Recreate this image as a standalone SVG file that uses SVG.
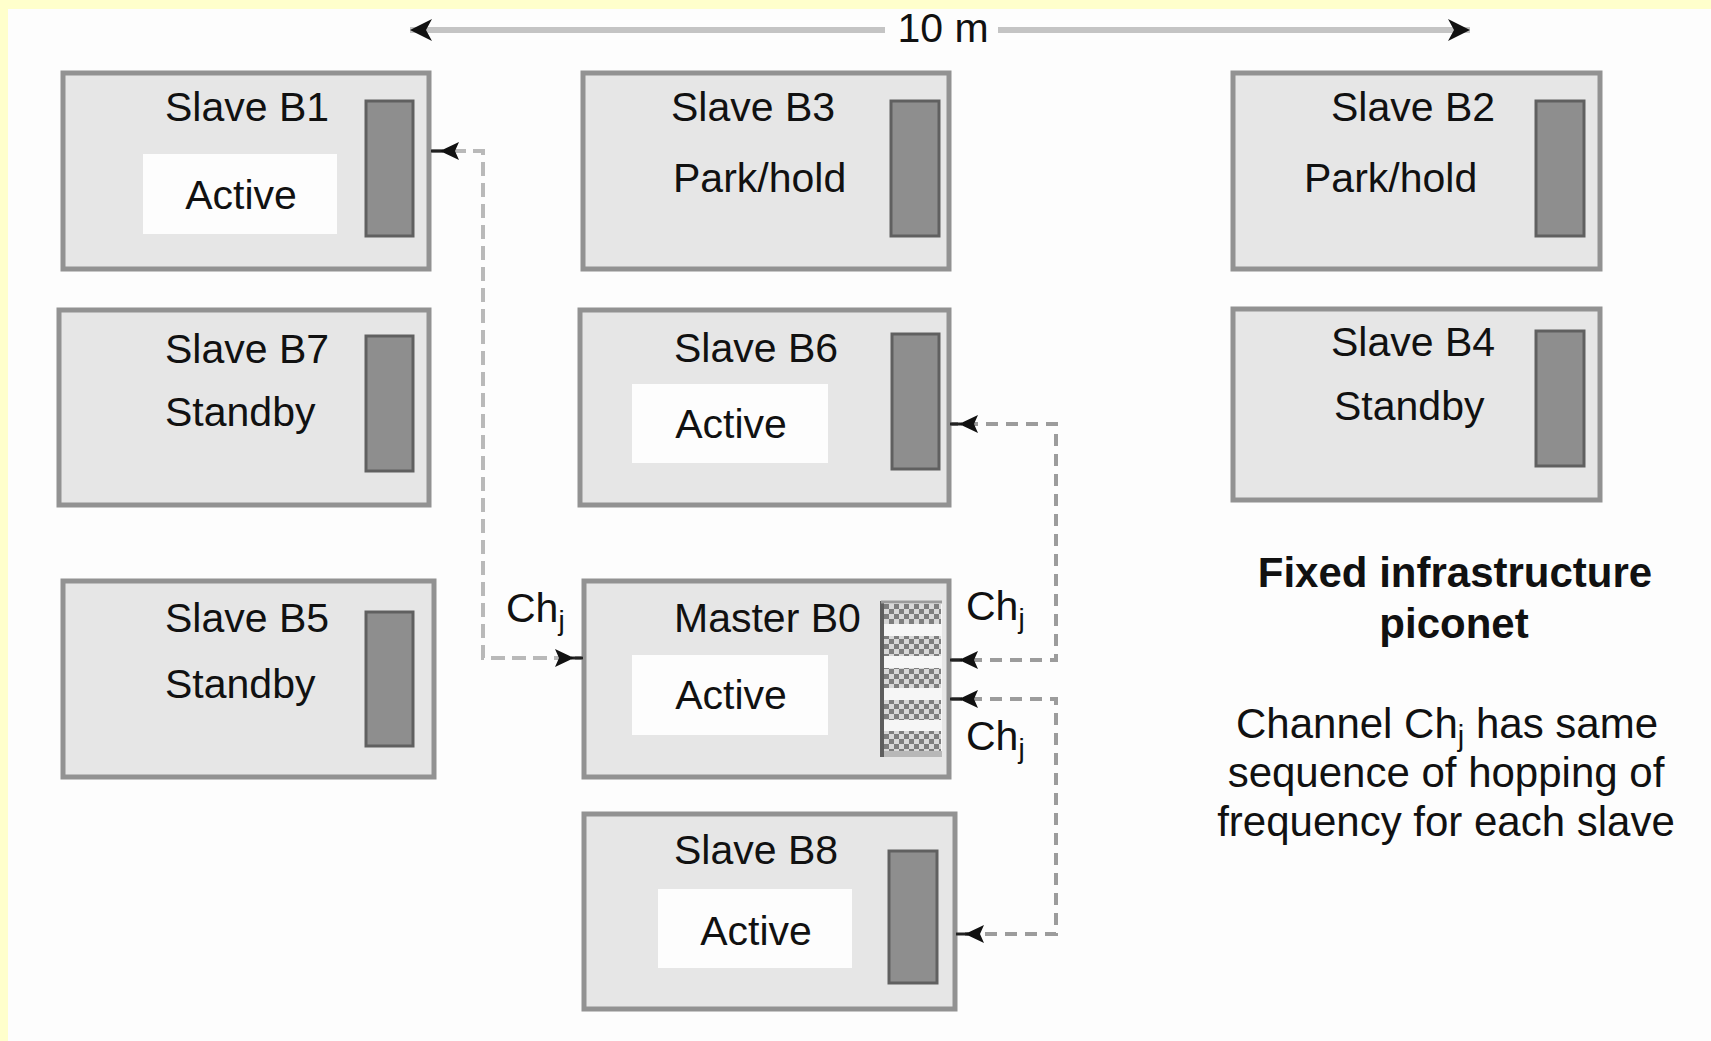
<svg xmlns="http://www.w3.org/2000/svg" width="1711" height="1041" viewBox="0 0 1711 1041">
<style>
.box{fill:#e6e6e6;stroke:#929292;stroke-width:5}
.bar{fill:#8e8e8e;stroke:#606060;stroke-width:3}
.act{fill:#fdfdfd}
text{font-family:"Liberation Sans",Arial,Helvetica,sans-serif;fill:#111}
.t{font-size:41px}
.m{text-anchor:middle}
.b{font-weight:bold}
.r{font-size:42px;text-anchor:middle}
.cl{fill:none;stroke:#b9b9b9;stroke-width:4;stroke-dasharray:14 7}
.cr{fill:none;stroke:#9c9c9c;stroke-width:4;stroke-dasharray:12 8}
</style>
<defs>
<marker id="ah" viewBox="-32 -12 34 24" refX="0" refY="0" markerWidth="34" markerHeight="24" markerUnits="userSpaceOnUse" orient="auto-start-reverse">
<path d="M-12,0 L0,0" stroke="#222" stroke-width="3"/>
<path d="M-9,0 L-28,-9 L-24,0 L-28,9 z" fill="#111"/>
</marker>
<marker id="dim" viewBox="-24 -12 26 24" refX="0" refY="0" markerWidth="26" markerHeight="24" markerUnits="userSpaceOnUse" orient="auto">
<path d="M0,0 L-22,-11 L-16,0 L-22,11 z" fill="#111"/>
</marker>
<pattern id="chk" x="884" y="604" width="10" height="10" patternUnits="userSpaceOnUse">
<rect width="10" height="10" fill="#d8d8d8"/>
<rect width="5" height="5" fill="#7e7e7e"/>
<rect x="5" y="5" width="5" height="5" fill="#7e7e7e"/>
</pattern>
</defs>
<rect width="1711" height="1041" fill="#ffffcc"/>
<rect x="8" y="9" width="1703" height="1032" fill="#fdfdfd"/>

<g id="dimension">
<path d="M885,30 H410" stroke="#c4c4c4" stroke-width="6" fill="none" marker-end="url(#dim)"/>
<path d="M998,30 H1470" stroke="#c4c4c4" stroke-width="6" fill="none" marker-end="url(#dim)"/>
<text class="t m" x="943" y="42">10 m</text>
</g>

<g id="node-b1">
<rect class="box" x="63" y="73" width="366" height="196"/>
<rect class="act" x="143" y="154" width="194" height="80"/>
<rect class="bar" x="366" y="101" width="47" height="135"/>
<text class="t" x="165" y="121">Slave B1</text>
<text class="t m" x="241" y="209">Active</text>
</g>

<g id="node-b3">
<rect class="box" x="583" y="73" width="366" height="196"/>
<rect class="bar" x="891" y="101" width="48" height="135"/>
<text class="t" x="671" y="121">Slave B3</text>
<text class="t" x="673" y="192">Park/hold</text>
</g>

<g id="node-b2">
<rect class="box" x="1233" y="73" width="367" height="196"/>
<rect class="bar" x="1536" y="101" width="48" height="135"/>
<text class="t" x="1331" y="121">Slave B2</text>
<text class="t" x="1304" y="192">Park/hold</text>
</g>

<g id="node-b7">
<rect class="box" x="59" y="310" width="370" height="195"/>
<rect class="bar" x="366" y="336" width="47" height="135"/>
<text class="t" x="165" y="363">Slave B7</text>
<text class="t" x="165" y="426">Standby</text>
</g>

<g id="node-b6">
<rect class="box" x="580" y="310" width="369" height="195"/>
<rect class="act" x="632" y="384" width="196" height="79"/>
<rect class="bar" x="892" y="334" width="47" height="135"/>
<text class="t" x="674" y="362">Slave B6</text>
<text class="t m" x="731" y="438">Active</text>
</g>

<g id="node-b4">
<rect class="box" x="1233" y="309" width="367" height="191"/>
<rect class="bar" x="1536" y="331" width="48" height="135"/>
<text class="t" x="1331" y="356">Slave B4</text>
<text class="t" x="1334" y="420">Standby</text>
</g>

<g id="node-b5">
<rect class="box" x="63" y="581" width="371" height="196"/>
<rect class="bar" x="366" y="612" width="47" height="134"/>
<text class="t" x="165" y="632">Slave B5</text>
<text class="t" x="165" y="698">Standby</text>
</g>

<g id="node-b0">
<rect class="box" x="584" y="581" width="365" height="196"/>
<rect class="act" x="632" y="655" width="196" height="80"/>
<text class="t" x="674" y="632">Master B0</text>
<text class="t m" x="731" y="709">Active</text>
<g id="hop-bar">
<rect x="881" y="601" width="61" height="156" fill="#f6f6f6"/>
<rect x="884" y="604" width="57" height="20" fill="url(#chk)"/>
<rect x="884" y="636" width="57" height="20" fill="url(#chk)"/>
<rect x="884" y="668" width="57" height="20" fill="url(#chk)"/>
<rect x="884" y="700" width="57" height="20" fill="url(#chk)"/>
<rect x="884" y="731" width="57" height="20" fill="url(#chk)"/>
<rect x="881" y="751" width="61" height="6" fill="#b8b8b8"/>
<path d="M882,601 V757" stroke="#5e5e5e" stroke-width="4"/>
<path d="M881,602 H942" stroke="#9a9a9a" stroke-width="3"/>
</g>
</g>

<g id="node-b8">
<rect class="box" x="584" y="814" width="371" height="195"/>
<rect class="act" x="658" y="889" width="194" height="79"/>
<rect class="bar" x="889" y="851" width="48" height="132"/>
<text class="t" x="674" y="864">Slave B8</text>
<text class="t m" x="756" y="945">Active</text>
</g>

<g id="connectors">
<path class="cl" d="M431,151 H483 V658 H583" marker-start="url(#ah)" marker-end="url(#ah)"/>
<path class="cr" d="M950,660 H1056 V424 H950" marker-start="url(#ah)" marker-end="url(#ah)"/>
<path class="cr" d="M950,699 H1056 V934 H956" marker-start="url(#ah)" marker-end="url(#ah)"/>
<text class="t" x="506" y="622">Ch<tspan font-size="28" dy="8">j</tspan></text>
<text class="t" x="966" y="620">Ch<tspan font-size="28" dy="8">j</tspan></text>
<text class="t" x="966" y="750">Ch<tspan font-size="28" dy="8">j</tspan></text>
</g>

<g id="caption">
<text class="r b" x="1455" y="587">Fixed infrastructure</text>
<text class="r b" x="1454" y="638">piconet</text>
<text class="r" x="1447" y="738">Channel Ch<tspan font-size="29" dy="8">j</tspan><tspan dy="-8"> has same</tspan></text>
<text class="r" x="1446" y="787">sequence of hopping of</text>
<text class="r" x="1446" y="836">frequency for each slave</text>
</g>
</svg>
